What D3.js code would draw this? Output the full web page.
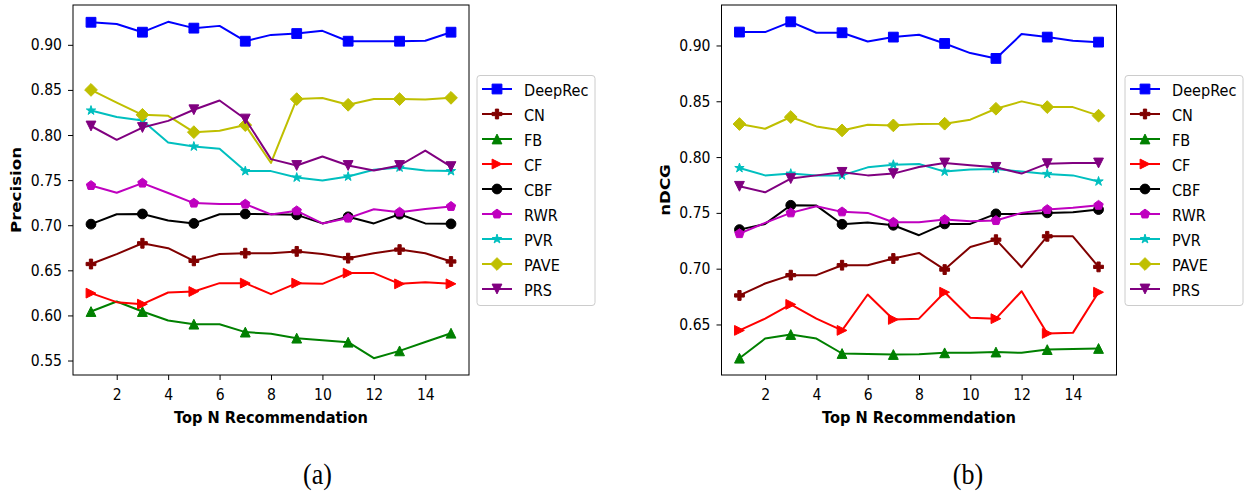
<!DOCTYPE html>
<html>
<meta charset="utf-8">
<head>
<title>DeepRec Precision / nDCG</title>
<style>
body { margin: 0; background: #fff; }
text { font-family: "DejaVu Sans", sans-serif; fill: #000; }
.line { fill: none; stroke-width: 2px; stroke-linejoin: round; }
.axisLabel { font-weight: bold; font-size: 14.6px; text-anchor: middle; }
text.caption { font-family: "Liberation Serif", "DejaVu Serif", serif; font-size: 26px; text-anchor: middle; }
.legendText { font-size: 14.5px; }
</style>
</head>
<body>
<script src="https://cdn.jsdelivr.net/npm/d3@7"></script>
<script>

// data
var methods = ["DeepRec", "CN", "FB", "CF", "CBF", "RWR", "PVR", "PAVE", "PRS"];
var topN = [1, 2, 3, 4, 5, 6, 7, 8, 9, 10, 11, 12, 13, 14, 15];
var xTicks = [2, 4, 6, 8, 10, 12, 14];
var precTicks = [0.55, 0.60, 0.65, 0.70, 0.75, 0.80, 0.85, 0.90];
var ndcgTicks = [0.65, 0.70, 0.75, 0.80, 0.85, 0.90];

var precDeepRec = [0.925, 0.923, 0.914, 0.9255, 0.9185, 0.921, 0.904, 0.911, 0.9125, 0.9155, 0.904, 0.904, 0.904, 0.9045, 0.914];
var precCN      = [0.657, 0.668, 0.680, 0.6745, 0.6605, 0.668, 0.669, 0.669, 0.671, 0.668, 0.6635, 0.669, 0.673, 0.669, 0.6598];
var precFB      = [0.6043, 0.6154, 0.6043, 0.5943, 0.5903, 0.5903, 0.5815, 0.5796, 0.5748, 0.5725, 0.5703, 0.5526, 0.5607, 0.5705, 0.5803];
var precCF      = [0.6247, 0.6147, 0.6125, 0.6254, 0.6265, 0.6358, 0.6358, 0.6236, 0.6358, 0.635, 0.6469, 0.6469, 0.635, 0.6369, 0.635];
var precCBF     = [0.7012, 0.7122, 0.7125, 0.7053, 0.702, 0.7122, 0.7125, 0.7122, 0.7115, 0.702, 0.7093, 0.702, 0.7122, 0.702, 0.7015];
var precRWR     = [0.744, 0.736, 0.7467, 0.7357, 0.7245, 0.7234, 0.7234, 0.712, 0.716, 0.702, 0.7079, 0.7177, 0.7145, 0.718, 0.7208];
var precPVR     = [0.8272, 0.820, 0.816, 0.7917, 0.7873, 0.7847, 0.760, 0.760, 0.7529, 0.7496, 0.754, 0.7614, 0.764, 0.7607, 0.760];
var precPAVE    = [0.850, 0.836, 0.8224, 0.8213, 0.8032, 0.8047, 0.811, 0.769, 0.8398, 0.841, 0.8335, 0.840, 0.8398, 0.8395, 0.8412];
var precPRS     = [0.810, 0.7947, 0.8083, 0.8157, 0.828, 0.8383, 0.8177, 0.7733, 0.7662, 0.7762, 0.7662, 0.7607, 0.7662, 0.7828, 0.765];

var ndcgDeepRec = [0.912, 0.912, 0.9212, 0.9114, 0.9114, 0.9036, 0.9075, 0.9096, 0.9018, 0.8932, 0.8884, 0.9102, 0.9075, 0.9042, 0.903];
var ndcgCN      = [0.676, 0.6867, 0.6942, 0.6942, 0.7031, 0.7031, 0.7091, 0.7141, 0.6992, 0.7195, 0.726, 0.7013, 0.729, 0.729, 0.7016];
var ndcgFB      = [0.6198, 0.6374, 0.641, 0.6374, 0.624, 0.6235, 0.6231, 0.6233, 0.6246, 0.6246, 0.6253, 0.6246, 0.6275, 0.628, 0.6285];
var ndcgCF      = [0.6447, 0.6552, 0.668, 0.6552, 0.6447, 0.6769, 0.6545, 0.6552, 0.6789, 0.656, 0.6552, 0.6798, 0.642, 0.6425, 0.6789];
var ndcgCBF     = [0.735, 0.7401, 0.7568, 0.7565, 0.7398, 0.7413, 0.7389, 0.730, 0.7401, 0.7401, 0.7491, 0.7491, 0.750, 0.7506, 0.753];
var ndcgRWR     = [0.7314, 0.741, 0.750, 0.756, 0.7509, 0.750, 0.7416, 0.7416, 0.744, 0.7425, 0.7431, 0.750, 0.753, 0.7545, 0.7568];
var ndcgPVR     = [0.7902, 0.7836, 0.7852, 0.7836, 0.7836, 0.7908, 0.7932, 0.7938, 0.787, 0.7888, 0.7894, 0.787, 0.7849, 0.7836, 0.7782];
var ndcgPAVE    = [0.8296, 0.8254, 0.8359, 0.8275, 0.8239, 0.829, 0.8284, 0.8296, 0.8299, 0.8335, 0.8433, 0.8499, 0.8448, 0.8448, 0.8371];
var ndcgPRS     = [0.7738, 0.7684, 0.7807, 0.7836, 0.7863, 0.7836, 0.7852, 0.7911, 0.7947, 0.7926, 0.7908, 0.7852, 0.7941, 0.7947, 0.7947];

// styles per method
var colors = ["#0000ff", "#800000", "#008000", "#ff0000", "#000000", "#bf00bf", "#00bfbf", "#bfbf00", "#800080"];
var shapes = ["s", "P", "^", ">", "o", "p", "*", "D", "v"];

var W = 1254, H = 494;
var stretch = 1.14; // the text in the picture is a bit taller than wide

var svg = d3.select("body").append("svg")
    .attr("width", W)
    .attr("height", H);

svg.append("rect").attr("width", W).attr("height", H).attr("fill", "#fff");

function markerPath(shape, s) {
  var h = s / 2, p = [];
  if (shape == "s") return "M" + (-h) + "," + (-h) + "H" + h + "V" + h + "H" + (-h) + "Z";
  if (shape == "o") return "M" + h + ",0A" + h + "," + h + " 0 1,1 " + (-h) + ",0A" + h + "," + h + " 0 1,1 " + h + ",0Z";
  if (shape == "^") return "M0," + (-h) + "L" + h + "," + h + "L" + (-h) + "," + h + "Z";
  if (shape == "v") return "M0," + h + "L" + h + "," + (-h) + "L" + (-h) + "," + (-h) + "Z";
  if (shape == ">") return "M" + h + ",0L" + (-h) + "," + h + "L" + (-h) + "," + (-h) + "Z";
  if (shape == "D") { var d = h * 1.3; return "M0," + (-d) + "L" + d + ",0L0," + d + "L" + (-d) + ",0Z"; }
  if (shape == "p") {
    for (var i = 0; i < 5; i++) {
      var a = -Math.PI / 2 + i * 2 * Math.PI / 5;
      p.push([h * Math.cos(a), h * Math.sin(a)]);
    }
    return "M" + p.join("L") + "Z";
  }
  if (shape == "*") {
    for (var i = 0; i < 10; i++) {
      var a = -Math.PI / 2 + i * Math.PI / 5, r = i % 2 ? h * 0.382 : h;
      p.push([r * Math.cos(a), r * Math.sin(a)]);
    }
    return "M" + p.join("L") + "Z";
  }
  if (shape == "P") {
    var t = h / 3;
    p = [[-t,-h],[t,-h],[t,-t],[h,-t],[h,t],[t,t],[t,h],[-t,h],[-t,t],[-h,t],[-h,-t],[-t,-t]];
    return "M" + p.join("L") + "Z";
  }
}

function stretchedText(g, x, y, str, cls, rot) {
  var tf = "translate(" + x + "," + y + ")" + (rot ? " rotate(-90) scale(" + stretch + ",1)" : " scale(1," + stretch + ")");
  return g.append("text").attr("class", cls).attr("transform", tf).text(str);
}

function drawPanel(p) {
  var g = svg.append("g");

  var all = [].concat.apply([], p.series);
  var lo = d3.min(all), hi = d3.max(all), pad = (hi - lo) * 0.05;

  var x = d3.scaleLinear().domain([0.3, 15.7]).range([p.left, p.right]);
  var y = d3.scaleLinear().domain([lo - pad, hi + pad]).range([p.bottom, p.top]);

  // x axis
  var xa = g.append("g")
      .attr("transform", "translate(0," + p.bottom + ")")
      .call(d3.axisBottom(x).tickValues(xTicks).tickSize(5).tickFormat(d3.format("d")));
  xa.select(".domain").remove();
  xa.selectAll("text")
      .attr("y", null).attr("dy", null)
      .attr("transform", "translate(0,25) scale(1," + stretch + ")")
      .style("font-size", "14px").style("font-family", "DejaVu Sans");

  // y axis
  var ya = g.append("g")
      .attr("transform", "translate(" + p.left + ",0)")
      .call(d3.axisLeft(y).tickValues(p.yTicks).tickSize(5).tickFormat(d3.format(".2f")));
  ya.select(".domain").remove();
  ya.selectAll("text")
      .attr("x", null).attr("dy", null)
      .attr("transform", "translate(-11,5) scale(1," + stretch + ")")
      .style("font-size", "14px").style("font-family", "DejaVu Sans");
  g.selectAll(".tick line").attr("stroke", "#000");

  var line = d3.line()
      .x(function(d, i) { return x(topN[i]); })
      .y(function(d) { return y(d); });

  p.series.forEach(function(vals, k) {
    g.append("path")
        .attr("class", "line")
        .attr("stroke", colors[k])
        .attr("d", line(vals));
    g.selectAll(null)
        .data(vals.filter(function(d, i) { return i % 2 == 0; }))
        .enter().append("path")
        .attr("transform", function(d, i) { return "translate(" + x(topN[i * 2]) + "," + y(d) + ")"; })
        .attr("d", markerPath(shapes[k], 9.8))
        .attr("fill", colors[k])
        .attr("stroke", colors[k])
        .attr("stroke-width", 1);
  });

  // frame
  g.append("rect")
      .attr("x", p.left).attr("y", p.top)
      .attr("width", p.right - p.left).attr("height", p.bottom - p.top)
      .attr("fill", "none").attr("stroke", "#000").attr("stroke-width", 1);

  // labels
  stretchedText(g, (p.left + p.right) / 2, 422.7, "Top N Recommendation", "axisLabel");
  stretchedText(g, p.yLabelX, (p.top + p.bottom) / 2, p.yLabel, "axisLabel", true);
  stretchedText(g, p.captionX, 483.5, p.caption, "caption");

  // legend
  var lg = g.append("g").attr("transform", "translate(" + p.legendX + ",75)");
  lg.append("rect")
      .attr("x", 0.5).attr("y", 0.5).attr("width", 118).attr("height", 230).attr("rx", 3)
      .attr("fill", "#fff").attr("fill-opacity", 0.8)
      .attr("stroke", "#cccccc").attr("stroke-width", 1);
  methods.forEach(function(m, k) {
    var cy = 14 + k * 25;
    lg.append("line")
        .attr("x1", 5.5).attr("x2", 35.5).attr("y1", cy).attr("y2", cy)
        .attr("stroke", colors[k]).attr("stroke-width", 2);
    lg.append("path")
        .attr("transform", "translate(20.5," + cy + ")")
        .attr("d", markerPath(shapes[k], 9.8))
        .attr("fill", colors[k]).attr("stroke", colors[k]).attr("stroke-width", 1);
    stretchedText(lg, 47.5, cy + 6.5, m, "legendText");
  });
}

drawPanel({
  left: 73, right: 469, top: 5, bottom: 375,
  series: [precDeepRec, precCN, precFB, precCF, precCBF, precRWR, precPVR, precPAVE, precPRS],
  yTicks: precTicks, yLabel: "Precision", yLabelX: 20.5,
  legendX: 476.5, caption: "(a)", captionX: 317.5
});

drawPanel({
  left: 721.5, right: 1116.5, top: 5, bottom: 375,
  series: [ndcgDeepRec, ndcgCN, ndcgFB, ndcgCF, ndcgCBF, ndcgRWR, ndcgPVR, ndcgPAVE, ndcgPRS],
  yTicks: ndcgTicks, yLabel: "nDCG", yLabelX: 669.5,
  legendX: 1124.5, caption: "(b)", captionX: 968
});

</script>
</body>
</html>
